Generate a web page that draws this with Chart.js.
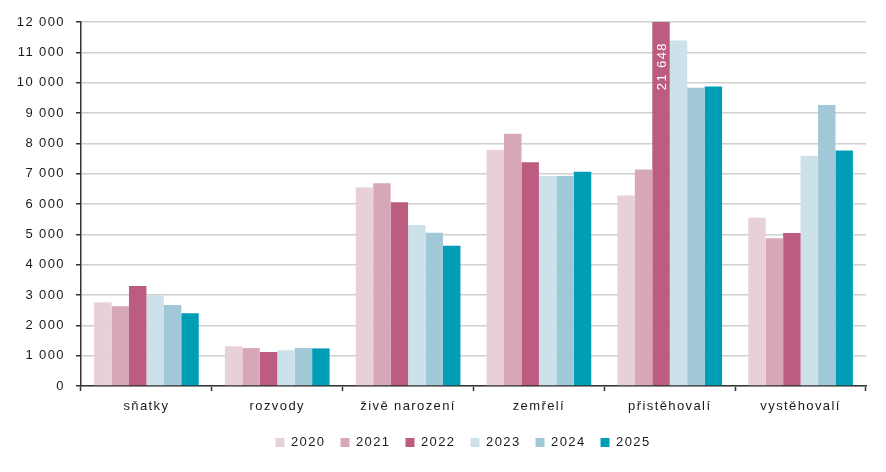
<!DOCTYPE html>
<html>
<head>
<meta charset="utf-8">
<script src="https://cdn.jsdelivr.net/npm/chart.js@4.4.1/dist/chart.umd.min.js"></script>
<style>
    html, body { margin: 0; padding: 0; background: #fff; }
    #wrap { width: 886px; height: 472px; }
</style>
</head>
<body>
<div id="wrap"><canvas id="chart"></canvas></div>
<script>
const categories = ['sňatky', 'rozvody', 'živě narození', 'zemřelí', 'přistěhovalí', 'vystěhovalí'];
const years = ['2020', '2021', '2022', '2023', '2024', '2025'];

const values2020 = [2760, 1310, 6540, 7780, 6280, 5550];
const values2021 = [2630, 1250, 6680, 8320, 7140, 4870];
const values2022 = [3300, 1120, 6060, 7380, 21648, 5040];
const values2023 = [2990, 1180, 5310, 6920, 11390, 7590];
const values2024 = [2670, 1250, 5050, 6920, 9830, 9260];
const values2025 = [2400, 1240, 4620, 7060, 9870, 7760];

const yTicks = [0, 1000, 2000, 3000, 4000, 5000, 6000, 7000, 8000, 9000, 10000, 11000, 12000];

const colors = ['#e8d0da', '#d7a7b8', '#bc5c80', '#cde1ea', '#a1c8d6', '#009db7'];
const allValues = [values2020, values2021, values2022, values2023, values2024, values2025];

const textColor = '#1a1a1a';
const axisColor = '#333333';

const formatNumber = (v) => String(v).replace(/\B(?=(\d{3})+(?!\d))/g, ' ');

// wider letter spacing like in the original graphic
const spacingPlugin = {
    id: 'spacing',
    beforeUpdate(chart) { chart.ctx.letterSpacing = '1.4px'; },
    beforeDraw(chart) { chart.ctx.letterSpacing = '1.4px'; },
    afterLayout(chart) {
        // legend is centred under the plot area, not the whole canvas
        chart.legend.left += 30;
        chart.legend.right += 30;
    }
};

// value of the bar that goes over the top of the axis
const overflowLabel = {
    id: 'overflowLabel',
    afterDatasetsDraw(chart) {
        const ctx = chart.ctx;
        const series = 2;
        const index = values2022.findIndex(v => v > yTicks[yTicks.length - 1]);
        if (index < 0) return;
        const bar = chart.getDatasetMeta(series).data[index];
        ctx.save();
        ctx.translate(bar.x, chart.chartArea.top + 20);
        ctx.rotate(-Math.PI / 2);
        ctx.font = '13px "Liberation Sans", Arial, sans-serif';
        ctx.fillStyle = '#ffffff';
        ctx.textAlign = 'right';
        ctx.textBaseline = 'middle';
        ctx.fillText(formatNumber(values2022[index]), 0, 1);
        ctx.restore();
    }
};

const datasets = years.map((year, i) => ({
    label: year,
    data: allValues[i],
    backgroundColor: colors[i],
    borderWidth: 0,
    categoryPercentage: 0.8,
    barPercentage: 1.0
}));

Chart.defaults.font.family = '"Liberation Sans", Arial, sans-serif';
Chart.defaults.font.size = 13;
Chart.defaults.color = textColor;

new Chart(document.getElementById('chart'), {
    type: 'bar',
    data: {
        labels: categories,
        datasets: datasets
    },
    options: {
        responsive: true,
        maintainAspectRatio: false,
        animation: false,
        layout: {
            padding: { left: 0, right: 20, top: 22, bottom: 13 }
        },
        plugins: {
            legend: {
                position: 'bottom',
                labels: {
                    boxWidth: 9,
                    boxHeight: 9,
                    padding: 15,
                    color: textColor
                }
            },
            tooltip: { enabled: false }
        },
        scales: {
            x: {
                grid: {
                    offset: true,
                    drawOnChartArea: false,
                    drawTicks: true,
                    tickLength: 5,
                    tickColor: axisColor,
                    tickWidth: 1.5
                },
                border: { color: axisColor, width: 1.5 },
                ticks: { padding: 8, color: textColor },
                afterFit: (scale) => { scale.height = 35; }
            },
            y: {
                min: 0,
                max: 12000,
                afterBuildTicks: (scale) => {
                    scale.ticks = yTicks.map(v => ({ value: v }));
                },
                grid: {
                    color: '#cfcfcf',
                    lineWidth: 1.5,
                    drawTicks: true,
                    tickLength: 5,
                    tickColor: axisColor,
                    tickWidth: 1.5
                },
                border: { color: axisColor, width: 1.5 },
                ticks: {
                    padding: 11,
                    color: textColor,
                    callback: (value) => formatNumber(value)
                },
                afterFit: (scale) => { scale.width = 81; }
            }
        }
    },
    plugins: [spacingPlugin, overflowLabel]
});
</script>
</body>
</html>
